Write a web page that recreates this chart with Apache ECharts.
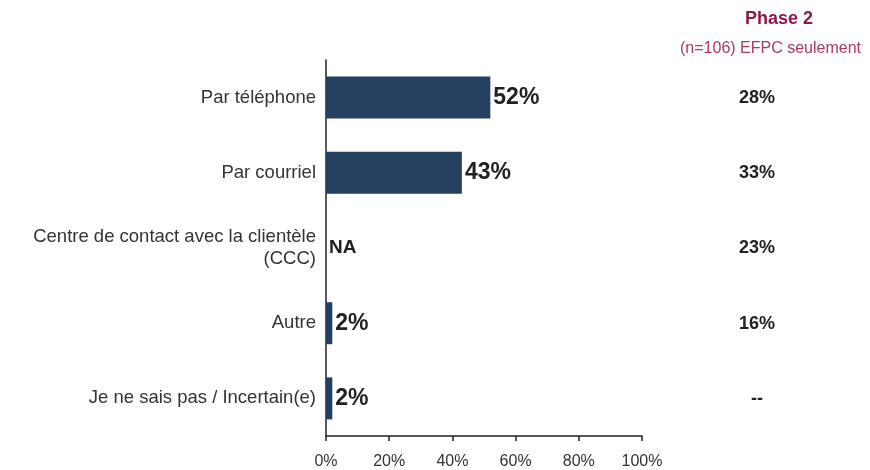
<!DOCTYPE html>
<html><head><meta charset="utf-8">
<script src="https://cdn.jsdelivr.net/npm/echarts@6/dist/echarts.min.js"></script>
<style>html,body{margin:0;padding:0;background:#fff}#c{width:870px;height:470px}</style>
</head><body><div id="c"></div>
<script>
var categories = ['Par téléphone', 'Par courriel', 'Centre de contact avec la clientèle\n(CCC)', 'Autre', 'Je ne sais pas / Incertain(e)'];
var phase1Values = [52, 43, null, 2, 2];
var phase2Values = [28, 33, 23, 16, null];
var xTicks = [0, 20, 40, 60, 80, 100];

var barData = phase1Values.map(function (v) {
  return v === null ? { value: 0, label: { formatter: 'NA', fontSize: 19 } } : v;
});
var phase2Data = phase2Values.map(function (v, i) { return [0.5, i, v]; });

var chart = echarts.init(document.getElementById('c'));
chart.setOption({
  animation: false,
  textStyle: { fontFamily: 'Liberation Sans, Arial, sans-serif' },
  title: [
    { text: 'Phase 2', right: 52, top: 5,
      textStyle: { fontSize: 18, fontWeight: 'bold', color: '#8c1a46' } },
    { text: '(n=106) EFPC seulement', right: 4, top: 36,
      textStyle: { fontSize: 16, fontWeight: 'normal', color: '#b0385f' } }
  ],
  grid: [
    { left: 326, top: 60, width: 316, height: 377 },
    { left: 700, top: 60, width: 114, height: 377 }
  ],
  xAxis: [
    { type: 'value', gridIndex: 0, min: xTicks[0], max: xTicks[xTicks.length - 1], interval: xTicks[1] - xTicks[0],
      axisLine: { show: true, lineStyle: { color: '#222', width: 1.5 } },
      axisTick: { show: true, length: 5, lineStyle: { color: '#222', width: 1.5 } },
      splitLine: { show: false },
      axisLabel: { formatter: '{value}%', fontSize: 16, color: '#333', margin: 18 } },
    { type: 'value', gridIndex: 1, min: 0, max: 1, show: false }
  ],
  yAxis: [
    { type: 'category', gridIndex: 0, data: categories, inverse: true,
      axisLine: { show: true, lineStyle: { color: '#222', width: 1.5 } },
      axisTick: { show: false },
      axisLabel: { fontSize: 18.5, color: '#333', margin: 10, lineHeight: 22, align: 'right' } },
    { type: 'category', gridIndex: 1, data: categories, inverse: true, show: false }
  ],
  series: [
    { type: 'bar', xAxisIndex: 0, yAxisIndex: 0, data: barData, barWidth: 42,
      itemStyle: { color: '#243f60' },
      label: { show: true, position: 'right', distance: 3, formatter: '{c}%',
        fontSize: 23, fontWeight: 'bold', color: '#222' } },
    { type: 'scatter', xAxisIndex: 1, yAxisIndex: 1, data: phase2Data, symbolSize: 0,
      itemStyle: { opacity: 1 },
      label: { show: true, position: 'inside', fontSize: 18, fontWeight: 'bold', color: '#222',
        formatter: function (p) { return p.value[2] === null ? '--' : p.value[2] + '%'; } } }
  ]
});
</script></body></html>
